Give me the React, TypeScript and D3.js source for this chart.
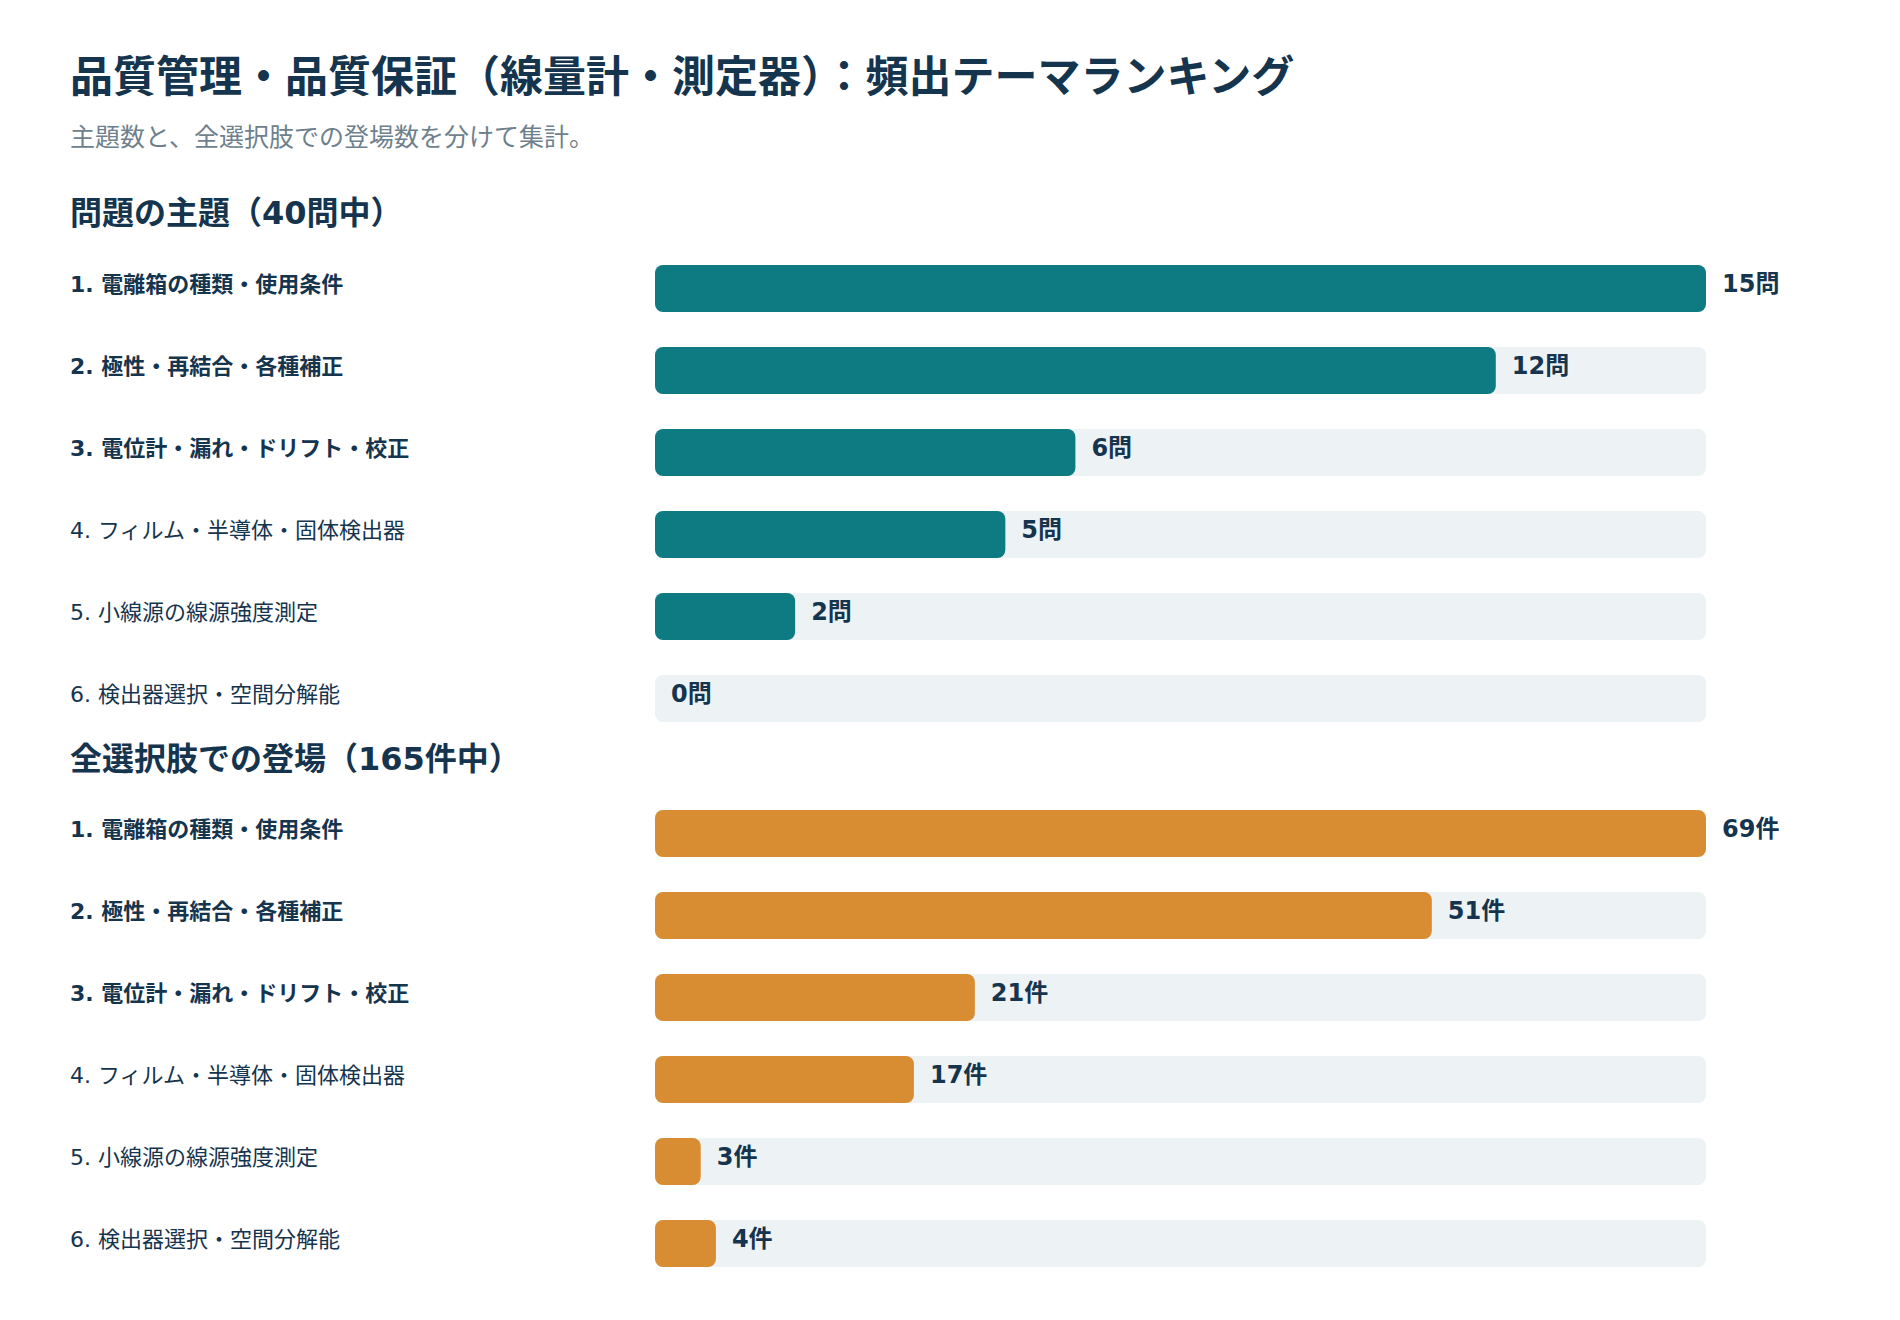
import React from "react";
import * as d3 from "d3";

// data
const categories: string[] = [
  "電離箱の種類・使用条件",
  "極性・再結合・各種補正",
  "電位計・漏れ・ドリフト・校正",
  "フィルム・半導体・固体検出器",
  "小線源の線源強度測定",
  "検出器選択・空間分解能",
];
const questionCounts: number[] = [15, 12, 6, 5, 2, 0];
const choiceCounts: number[] = [69, 51, 21, 17, 3, 4];

const title = "品質管理・品質保証（線量計・測定器）：頻出テーマランキング";
const subtitle = "主題数と、全選択肢での登場数を分けて集計。";
const sectionTitles: string[] = ["問題の主題（40問中）", "全選択肢での登場（165件中）"];
const units: string[] = ["問", "件"];

const width = 1900;
const height = 1320;
const left = 70;
const barStart = 655;
const barEnd = 1706;
const rowStep = 82;
const barH = 47;

const FONT = '"DejaVu Sans", "Noto Sans CJK JP", sans-serif';
const NAVY = "#15344e";
const TRACK = "#edf2f5";
const colors: string[] = ["#0e7a82", "#d98d33"];

type SectionProps = {
  values: number[];
  top: number;
  headerY: number;
  heading: string;
  unit: string;
  color: string;
};

const Section: React.FC<SectionProps> = ({ values, top, headerY, heading, unit, color }) => {
  const x = d3.scaleLinear().domain([0, d3.max(values) as number]).range([barStart, barEnd]);
  const y = d3
    .scaleBand<string>()
    .domain(categories)
    .range([top, top + rowStep * (categories.length - 1) + barH])
    .paddingInner((rowStep - barH) / rowStep)
    .paddingOuter(0);

  return (
    <g>
      <text x={left} y={headerY} fontSize={32} fontWeight={700} fill={NAVY}>
        {heading}
      </text>
      {categories.map((c, i) => {
        const yy = y(c)!;
        const v = values[i];
        const w = x(v) - barStart;
        return (
          <g key={c}>
            <text
              x={left}
              y={yy + 26.5}
              fontSize={22}
              fontWeight={i < 3 ? 700 : 400}
              fill={NAVY}
            >
              {`${i + 1}. ${c}`}
            </text>
            <rect x={barStart} y={yy} width={barEnd - barStart} height={y.bandwidth()} rx={8} fill={TRACK} />
            {v > 0 && (
              <rect x={barStart} y={yy} width={w} height={y.bandwidth()} rx={8} fill={color} />
            )}
            <text x={x(v) + 16} y={yy + 26.5} fontSize={24} fontWeight={700} fill={NAVY}>
              {`${v}${unit}`}
            </text>
          </g>
        );
      })}
    </g>
  );
};

const App: React.FC = () => {
  return (
    <svg
      width={width}
      height={height}
      style={{ position: "absolute", left: 0, top: 0, display: "block", background: "#fff" }}
      fontFamily={FONT}
    >
      <text x={left} y={92} fontSize={43} fontWeight={700} fill={NAVY}>
        {title}
      </text>
      <text x={left} y={146} fontSize={25} fill="#6e7f8d">
        {subtitle}
      </text>
      <Section
        values={questionCounts}
        top={265}
        headerY={224}
        heading={sectionTitles[0]}
        unit={units[0]}
        color={colors[0]}
      />
      <Section
        values={choiceCounts}
        top={810}
        headerY={770}
        heading={sectionTitles[1]}
        unit={units[1]}
        color={colors[1]}
      />
    </svg>
  );
};

export default App;
